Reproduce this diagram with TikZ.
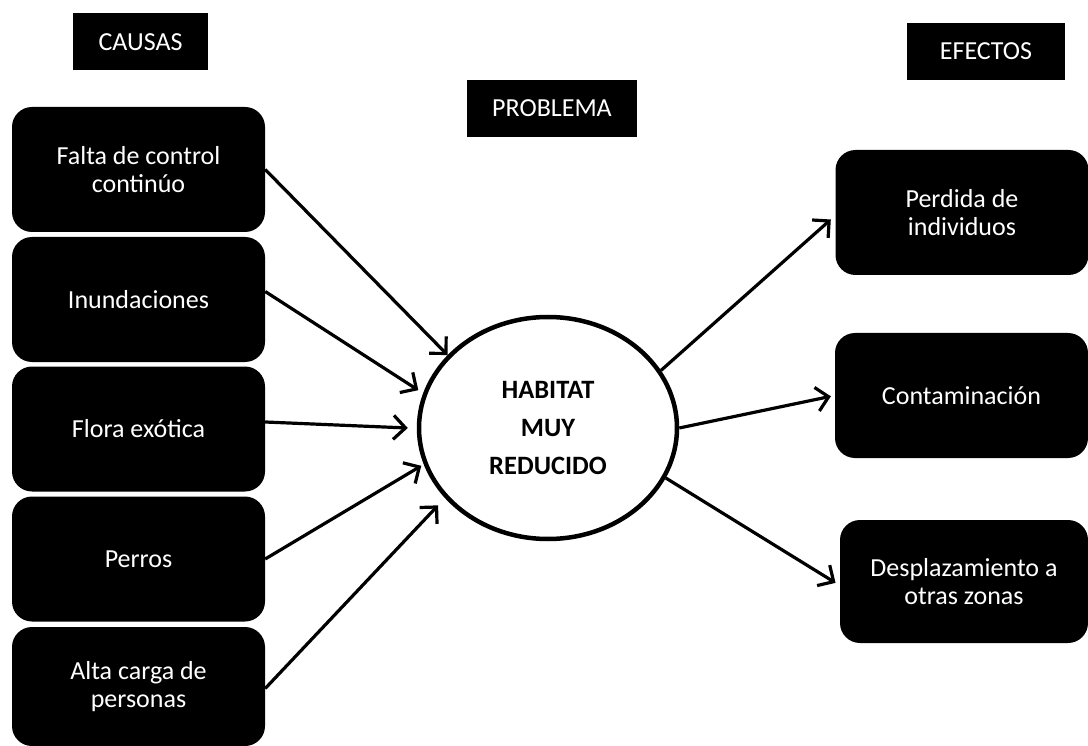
\documentclass[tikz,border=0pt]{standalone}
\usepackage{fontspec}
\setmainfont{Carlito}
\usetikzlibrary{shapes.geometric,arrows.meta}
\tikzset{
  causebox/.style={fill=black,text=white,rounded corners=20pt,minimum width=253pt,minimum height=125pt,inner sep=0pt,align=center,font=\fontsize{26}{28.5}\selectfont},
  titlebox/.style={fill=black,text=white,minimum height=57pt,inner sep=0pt,font=\fontsize{26}{29}\selectfont},
  arr/.style={line width=3.2pt,-{Straight Barb[length=12pt,width=24pt,line width=3.2pt]}},
}
\begin{document}
\begin{tikzpicture}[x=1pt,y=-1pt]
\useasboundingbox[fill=white] (0,0) rectangle (1088,746);
% titles
\node[titlebox,minimum width=135pt] (causas) at (140.5,42) {CAUSAS};
\node[titlebox,minimum width=170pt] (problema) at (552,108.5) {PROBLEMA};
\node[titlebox,minimum width=158pt] (efectos) at (986,51.5) {EFECTOS};
% causes
\node[causebox] (c1) at (138.5,169.5) {Falta de control\\continúo};
\node[causebox] (c2) at (138.5,299.5) {Inundaciones};
\node[causebox] (c3) at (138.5,429) {Flora exótica};
\node[causebox] (c4) at (138.5,559) {Perros};
\node[causebox,minimum height=119pt] (c5) at (138.5,686.5) {Alta carga de\\personas};
% problem
\node[ellipse,draw,line width=4.5pt,minimum width=258pt,minimum height=222pt,inner sep=0pt,align=center,
      font=\fontsize{26.5}{38}\selectfont\bfseries] (hab) at (548,428) {HABITAT\\MUY\\REDUCIDO};
% effects
\node[causebox] (e1) at (962,212.5) {Perdida de\\individuos};
\node[causebox] (e2) at (961.5,395.5) {Contaminación};
\node[causebox,minimum height=123pt,minimum width=248pt] (e3) at (964,581.5) {Desplazamiento a\\otras zonas};
% arrows in
\draw[arr] (c1.east) -- (hab.144.7);
\draw[arr] ([yshift=8pt]c2.east) -- ([xshift=-6pt]hab.163.8);
\draw[arr] ([yshift=7pt]c3.east) -- ([xshift=-9pt]hab.180);
\draw[arr] (c4.east) -- ([xshift=-3pt]hab.197.3);
\draw[arr] ([yshift=-2pt]c5.east) -- ([xshift=-8pt,yshift=-6pt]hab.215);
% arrows out
\draw[arr,shorten >=6pt] (hab.27.8) -- ([yshift=-3pt]e1.west);
\draw[arr,shorten >=4pt] (hab.0) -- (e2.west);
\draw[arr,shorten >=5pt] (hab.-23.1) -- ([yshift=-4pt]e3.west);
\end{tikzpicture}
\end{document}
